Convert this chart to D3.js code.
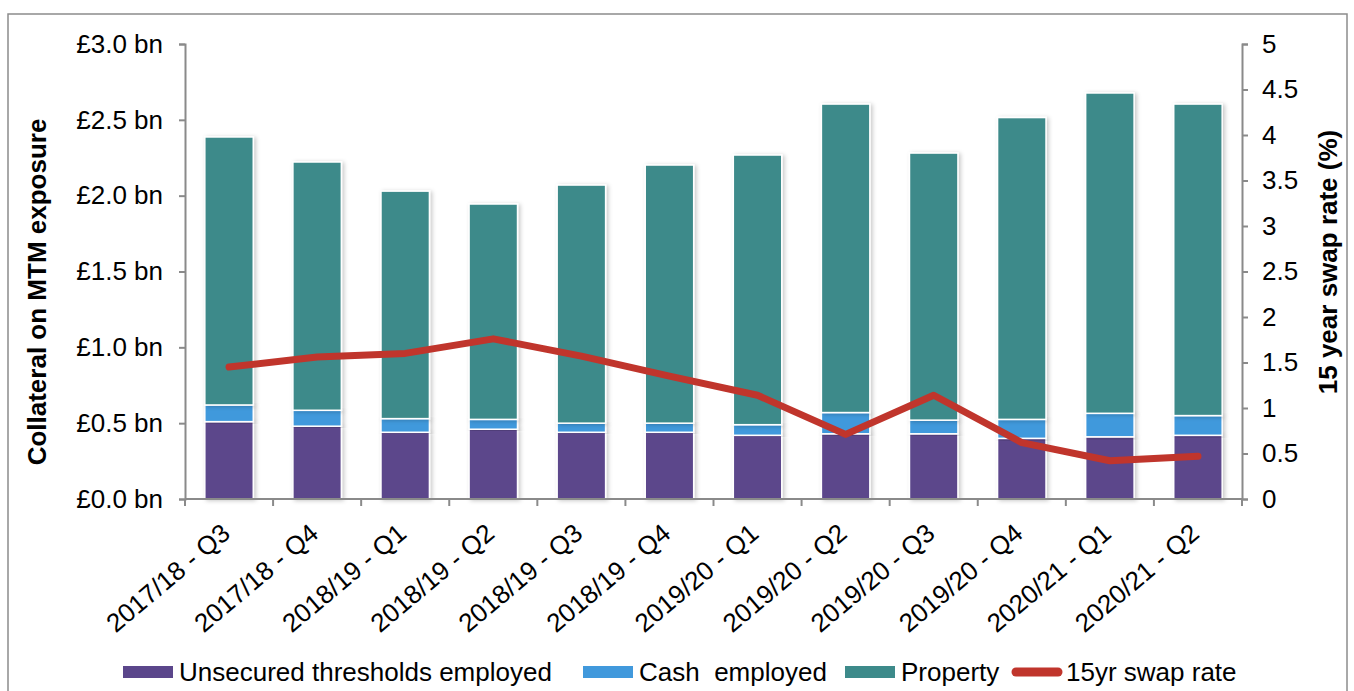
<!DOCTYPE html>
<html>
<head>
<meta charset="utf-8">
<script src="https://cdn.jsdelivr.net/npm/d3@7"></script>
<style>
  body { margin: 0; background: #fff; }
  text { font-family: "Liberation Sans", Arial, sans-serif; fill: #000; }
</style>
</head>
<body>
<svg id="chart" width="1354" height="691"></svg>
<script>
var categories = ["2017/18 - Q3", "2017/18 - Q4", "2018/19 - Q1", "2018/19 - Q2", "2018/19 - Q3", "2018/19 - Q4",
	"2019/20 - Q1", "2019/20 - Q2", "2019/20 - Q3", "2019/20 - Q4", "2020/21 - Q1", "2020/21 - Q2"]
var unsecured = [0.51, 0.48, 0.44, 0.46, 0.44, 0.44, 0.42, 0.43, 0.43, 0.40, 0.41, 0.42]
var cash = [0.11, 0.105, 0.09, 0.065, 0.06, 0.06, 0.07, 0.14, 0.09, 0.125, 0.155, 0.13]
var property = [1.767, 1.637, 1.50, 1.42, 1.57, 1.702, 1.778, 2.034, 1.761, 1.99, 2.112, 2.054]
var swapRate = [1.45, 1.56, 1.60, 1.76, 1.57, 1.35, 1.14, 0.71, 1.14, 0.62, 0.42, 0.47]
var leftTicks = [0, 0.5, 1, 1.5, 2, 2.5, 3]
var rightTicks = [0, 0.5, 1, 1.5, 2, 2.5, 3, 3.5, 4, 4.5, 5]

var seriesNames = ["Unsecured thresholds employed", "Cash  employed", "Property"]
var colors = ["#5b468b", "#4199dc", "#3d8a8a"]
var LINE_COLOR = "#c0352c"
var AXIS_COLOR = "#8a8a8a"

const LEFT = 185, RIGHT = 1242, TOP = 44, BOTTOM = 499

var chart = d3.select("#chart")

// outer border
chart.append("rect")
	.attr("x", 8).attr("y", 14)
	.attr("width", 1339).attr("height", 700)
	.attr("fill", "none")
	.attr("stroke", "#8c8c8c")
	.attr("stroke-width", 1.5)

var defs = chart.append("defs")
var shadow = defs.append("filter").attr("id", "shadow")
	.attr("x", "-30%").attr("y", "-10%").attr("width", "160%").attr("height", "120%")
shadow.append("feDropShadow")
	.attr("dx", 2).attr("dy", 1)
	.attr("stdDeviation", 2)
	.attr("flood-color", "#000")
	.attr("flood-opacity", 0.22)

var x = d3.scaleBand().domain(categories).range([LEFT, RIGHT]).paddingInner(0.45).paddingOuter(0.225)
var xb = d3.scaleBand().domain(categories).range([LEFT, RIGHT])
var y = d3.scaleLinear().domain([0, 3]).range([BOTTOM, TOP])
var y2 = d3.scaleLinear().domain([0, 5]).range([BOTTOM, TOP])

var rows = categories.map((c, i) => ({ cat: c, s0: unsecured[i], s1: cash[i], s2: property[i] }))
var stack = d3.stack().keys(["s0", "s1", "s2"])(rows)

var bars = chart.append("g")
stack.forEach((layer, k) => {
	bars.append("g")
		.attr("fill", colors[k])
		.selectAll("rect")
		.data(layer)
		.enter()
		.append("rect")
			.attr("x", d => x(d.data.cat))
			.attr("width", x.bandwidth())
			.attr("y", d => y(d[1]))
			.attr("height", d => y(d[0]) - y(d[1]))
			.attr("stroke", "#fff")
			.attr("stroke-width", 1.5)
			.attr("filter", "url(#shadow)")
})

// left axis
var leftAxis = chart.append("g")
	.attr("transform", "translate(" + LEFT + ",0)")
	.call(d3.axisLeft(y).tickValues(leftTicks).tickSize(6).tickPadding(16)
		.tickFormat(d => "£" + d3.format(".1f")(d) + " bn"))
leftAxis.selectAll("text").attr("font-size", "26px").attr("font-family", "Liberation Sans, Arial, sans-serif")

// right axis
var rightAxis = chart.append("g")
	.attr("transform", "translate(" + RIGHT + ",0)")
	.call(d3.axisRight(y2).tickValues(rightTicks).tickSize(6).tickPadding(14).tickFormat(d => d))
rightAxis.selectAll("text").attr("font-size", "26px").attr("font-family", "Liberation Sans, Arial, sans-serif")

// bottom axis, ticks on band edges
var bottom = chart.append("g")
bottom.append("line")
	.attr("x1", LEFT).attr("x2", RIGHT)
	.attr("y1", BOTTOM).attr("y2", BOTTOM)
bottom.selectAll(".edge")
	.data(categories.concat(["end"]))
	.enter()
	.append("line")
		.attr("class", "edge")
		.attr("x1", (d, i) => i < categories.length ? xb(d) : RIGHT)
		.attr("x2", (d, i) => i < categories.length ? xb(d) : RIGHT)
		.attr("y1", BOTTOM).attr("y2", BOTTOM + 7)
bottom.selectAll("text")
	.data(categories)
	.enter()
	.append("text")
		.attr("font-size", "26px")
		.attr("text-anchor", "end")
		.attr("transform", d => "translate(" + (xb(d) + xb.bandwidth() / 2 - 3) + "," + (BOTTOM + 30) + ") rotate(-40)")
		.attr("dy", "0.35em")
		.text(d => d)

chart.selectAll(".domain, .tick line, g line").attr("stroke", AXIS_COLOR).attr("stroke-width", 2)

// swap rate line
var line = d3.line()
	.x((d, i) => xb(categories[i]) + xb.bandwidth() / 2)
	.y(d => y2(d))
chart.append("path")
	.datum(swapRate)
	.attr("d", line)
	.attr("fill", "none")
	.attr("stroke", LINE_COLOR)
	.attr("stroke-width", 7)
	.attr("stroke-linejoin", "round")
	.attr("stroke-linecap", "round")

// axis titles
chart.append("text")
	.attr("font-size", "26px")
	.style("font-weight", "bold")
	.attr("text-anchor", "middle")
	.attr("transform", "translate(46,292) rotate(-90)")
	.text("Collateral on MTM exposure")
chart.append("text")
	.attr("font-size", "26px")
	.style("font-weight", "bold")
	.attr("text-anchor", "middle")
	.attr("transform", "translate(1337,262) rotate(-90)")
	.text("15 year swap rate (%)")

// legend
var legendX = [123, 583, 845]
var legend = chart.append("g")
seriesNames.forEach((name, k) => {
	legend.append("rect")
		.attr("x", legendX[k]).attr("y", 666)
		.attr("width", 50).attr("height", 12)
		.attr("fill", colors[k])
	legend.append("text")
		.attr("x", legendX[k] + 56).attr("y", 672)
		.attr("dy", "0.35em")
		.attr("font-size", "26px")
		.style("white-space", "pre")
		.attr("xml:space", "preserve")
		.text(name)
})
legend.append("line")
	.attr("x1", 1016).attr("x2", 1058)
	.attr("y1", 672).attr("y2", 672)
	.attr("stroke", LINE_COLOR)
	.attr("stroke-width", 9)
	.attr("stroke-linecap", "round")
legend.append("text")
	.attr("x", 1066).attr("y", 672)
	.attr("dy", "0.35em")
	.attr("font-size", "26px")
	.text("15yr swap rate")
</script>
</body>
</html>
